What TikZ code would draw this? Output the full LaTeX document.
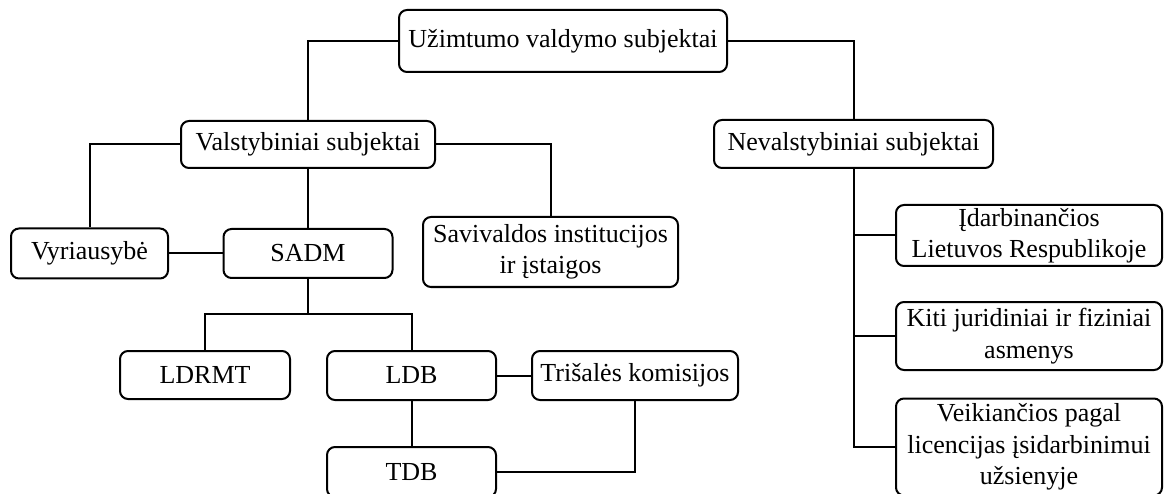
\documentclass[tikz,border=0pt]{standalone}
\usepackage{fontspec}
\setmainfont{Liberation Serif}
\begin{document}
\begin{tikzpicture}[x=1pt,y=-1pt,line width=2pt,
	box/.style={draw,rounded corners=8pt,align=center,inner sep=2pt,
		font=\fontsize{26}{31.5}\selectfont}]
		\useasboundingbox (0,0) rectangle (1164,494);
		\node (UV) at (563,41)    [box,minimum width=328pt,minimum height=62pt] {Užimtumo valdymo subjektai};
		\node (VS) at (308,144.5) [box,minimum width=254pt,minimum height=47pt] {Valstybiniai subjektai};
		\node (NS) at (853.5,144) [box,minimum width=279pt,minimum height=48pt] {Nevalstybiniai subjektai};
		\node (Vy) at (89.5,253.5) [box,minimum width=157pt,minimum height=50pt] {Vyriausybė};
		\node (SA) at (308,253.5) [box,minimum width=169pt,minimum height=49pt] {SADM} edge (VS) edge (Vy);
		\node (Sa) at (550.5,252) [box,minimum width=255pt,minimum height=70pt] {Savivaldos institucijos\\ir įstaigos};
		\node (LR) at (205,375)   [box,minimum width=170pt,minimum height=48pt] {LDRMT};
		\node (LD) at (411.5,375.5) [box,minimum width=169pt,minimum height=49pt] {LDB};
		\node (TK) at (635,375.5) [box,minimum width=206pt,minimum height=49pt] {Trišalės komisijos} edge (LD);
		\node (TD) at (411.5,472) [box,minimum width=169pt,minimum height=50pt] {TDB} edge (LD);
		\node (Id) at (1029,235.5) [box,minimum width=266pt,minimum height=61pt] {Įdarbinančios\\Lietuvos Respublikoje};
		\node (Ki) at (1029,336)  [box,minimum width=266pt,minimum height=68pt] {Kiti juridiniai ir fiziniai\\asmenys};
		\node (Ve) at (1029,447)  [box,minimum width=266pt,minimum height=97pt] {Veikiančios pagal\\licencijas įsidarbinimui\\užsienyje};
		\coordinate (SJ) at (308,314);
		\draw (UV.west) -| (VS.north);
		\draw (UV.east) -| (NS.north);
		\draw (VS.west) -| (Vy.north);
		\draw (VS.east) -| (Sa.north);
		\draw (SA) -- (SJ) -| (LR);
		\draw (SJ) -| (LD);
		\draw (TK) |- (TD);
		\draw (NS) |- (Id);
		\draw (NS) |- (Ki);
		\draw (NS) |- (Ve);
	\end{tikzpicture}
\end{document}
